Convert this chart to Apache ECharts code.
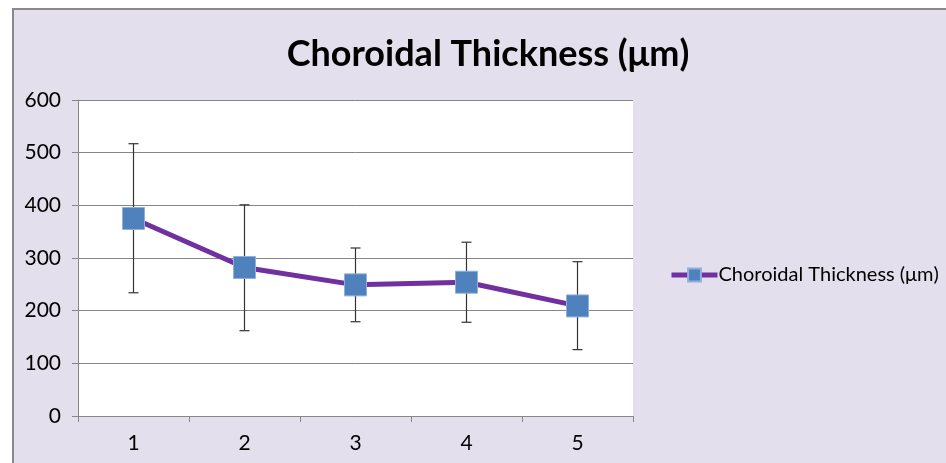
<!DOCTYPE html>
<html><head><meta charset="utf-8">
<script src="https://cdn.jsdelivr.net/npm/echarts@6/dist/echarts.min.js"></script>
<style>html,body{margin:0;padding:0;background:#fff}#c{width:946px;height:463px}</style>
</head><body><div id="c"></div>
<script>
const categories = ['1','2','3','4','5'];
const meanValues = [375, 282, 249, 254, 209];
const errorLow = [234, 162, 179, 178, 126];
const errorHigh = [517, 401, 319, 330, 293];
const yTicks = [0, 100, 200, 300, 400, 500, 600];
const seriesName = 'Choroidal Thickness (μm)';

const chart = echarts.init(document.getElementById('c'));
const font = 'Lato, "Open Sans", sans-serif';
chart.setOption({
  backgroundColor: '#ffffff',
  animation: false,
  title: {
    text: 'Choroidal Thickness (μm)', left: 483, top: 31, textAlign: 'center',
    textStyle: { fontFamily: font, fontWeight: 'bold', fontSize: 36, color: '#000' }
  },
  graphic: [{
    type: 'rect', z: -10, shape: { x: 13, y: 9, width: 960, height: 480 },
    style: { fill: '#e4dfec', stroke: '#8a8a8a', lineWidth: 2 }
  }],
  legend: {
    left: 664, top: 260, itemWidth: 46, itemHeight: 16, itemGap: 4,
    lineStyle: { width: 5 },
    textStyle: { fontFamily: font, fontSize: 20, color: '#000', padding: [0,0,0,-4] },
    data: [seriesName]
  },
  grid: { left: 78, right: 313, top: 100, bottom: 47, show: true, backgroundColor: '#ffffff', borderWidth: 0 },
  xAxis: {
    type: 'category', data: categories, boundaryGap: true,
    axisLine: { lineStyle: { color: '#868686', width: 1 } },
    axisTick: { show: true, length: 6, lineStyle: { color: '#868686' } },
    axisLabel: { show: true, margin: 17, fontFamily: 'Lato', fontSize: 21, color: '#000000' }
  },
  yAxis: {
    type: 'value', min: yTicks[0], max: yTicks[yTicks.length-1], interval: 100,
    axisLine: { show: true, lineStyle: { color: '#868686', width: 1 } },
    axisTick: { show: true, length: 6, lineStyle: { color: '#868686' } },
    splitLine: { lineStyle: { color: '#868686', width: 1 } },
    axisLabel: { show: true, margin: 17, fontFamily: 'Lato', fontSize: 21, color: '#000000' }
  },
  series: [
    {
      type: 'custom', name: 'err', z: 1,
      data: categories.map((c, i) => [i, errorLow[i], errorHigh[i]]),
      renderItem: function (params, api) {
        const lo = api.coord([api.value(0), api.value(1)]);
        const hi = api.coord([api.value(0), api.value(2)]);
        const w = 5;
        const st = { stroke: '#333', lineWidth: 1.2 };
        return { type: 'group', children: [
          { type: 'line', shape: { x1: lo[0], y1: lo[1], x2: hi[0], y2: hi[1] }, style: st },
          { type: 'line', shape: { x1: lo[0]-w, y1: lo[1], x2: lo[0]+w, y2: lo[1] }, style: st },
          { type: 'line', shape: { x1: hi[0]-w, y1: hi[1], x2: hi[0]+w, y2: hi[1] }, style: st }
        ]};
      }
    },
    {
      type: 'line', name: seriesName, data: meanValues, z: 3,
      symbol: 'rect', symbolSize: 22,
      lineStyle: { color: '#7030a0', width: 5 },
      itemStyle: { color: '#4f81bd', borderColor: '#8fb0dc', borderWidth: 1 }
    }
  ]
});
</script></body></html>
